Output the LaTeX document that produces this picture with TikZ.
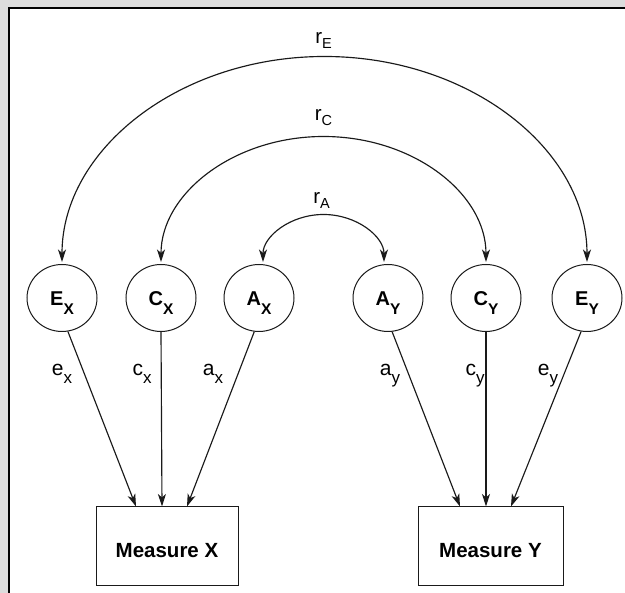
\documentclass[tikz,border=0pt]{standalone}
\usepackage{fontspec}
\setmainfont{Liberation Sans}
\usetikzlibrary{arrows.meta,shapes.geometric,calc}

% text helpers: main letter followed by a lowered subscript
\newcommand\latentlbl[2]{{\fontsize{20}{20}\selectfont\bfseries #1\raisebox{-9pt}{\fontsize{15.5}{15.5}\selectfont\bfseries #2}}}
\newcommand\pathlbl[2]{{\fontsize{21}{21}\selectfont #1\raisebox{-8pt}{\fontsize{17}{17}\selectfont #2}}}
\newcommand\corrlbl[2]{{\fontsize{20.5}{20.5}\selectfont #1\raisebox{-4.5pt}{\fontsize{14.5}{14.5}\selectfont #2}}}

\definecolor{framegray}{HTML}{DCDCDC}
\definecolor{ink}{HTML}{1A1A1A}

\tikzset{
  latent/.style={draw=ink, line width=1pt, ellipse, inner sep=0pt,
    minimum width=70pt, minimum height=67pt, text height=18pt, text depth=3pt},
  measure/.style={draw=ink, line width=1pt, rectangle, inner sep=0pt,
    minimum height=79pt, text height=21.7pt, text depth=0pt,
    font=\fontsize{20.5}{20.5}\selectfont\bfseries},
  tip/.style={-{Stealth[length=12.5pt,width=8pt,inset=3.5pt]}},
  loading/.style={draw=ink, line width=1.15pt, tip},
  corr/.style={draw=ink, line width=1.15pt,
    {Stealth[length=12.5pt,width=8pt,inset=3.5pt]}-{Stealth[length=12.5pt,width=8pt,inset=3.5pt]}},
  lbl/.style={inner sep=0pt}
}

\begin{document}
\begin{tikzpicture}[x=1pt,y=1pt]
  \useasboundingbox (0,0) rectangle (625,593);
  % page frame
  \fill[framegray] (0,0) rectangle (625,593);
  \fill[white] (9,0) rectangle (625,585);
  \draw[black, line width=1.8pt] (9,0) -- (9,585) -- (625,585);

  % latent factors
  \node[latent] (EX) at (62,295)  {\latentlbl{E}{X}};
  \node[latent] (CX) at (161,295) {\latentlbl{C}{X}};
  \node[latent] (AX) at (259,295) {\latentlbl{A}{X}};
  \node[latent] (AY) at (388,295) {\latentlbl{A}{Y}};
  \node[latent] (CY) at (486,295) {\latentlbl{C}{Y}};
  \node[latent] (EY) at (587,295) {\latentlbl{E}{Y}};

  % observed measures
  \node[measure, minimum width=142pt] (MX) at (167,46.5)  {Measure X};
  \node[measure, minimum width=145pt] (MY) at (490.5,46.5) {Measure Y};

  % arrow end points on the top edges of the measures
  \coordinate (mx1) at (136,0 |- MX.north);
  \coordinate (mx2) at (162,0 |- MX.north);
  \coordinate (mx3) at (187,0 |- MX.north);
  \coordinate (my1) at (460,0 |- MY.north);
  \coordinate (my2) at (486,0 |- MY.north);
  \coordinate (my3) at (511,0 |- MY.north);

  % factor loadings
  \draw[loading] (EX.-80)  -- (mx1);
  \draw[loading] (CX.south) -- (mx2);
  \draw[loading] (AX.-98)  -- (mx3);
  \draw[loading] (AY.-83)  -- (my1);
  \draw[loading] (CY.south) -- (my2);
  \draw[loading] (EY.-100) -- (my3);

  \node[lbl] (lex) at (62,219)  {\pathlbl{e}{x}};
  \node[lbl] (lcx) at (142,219) {\pathlbl{c}{x}};
  \node[lbl] (lax) at (213,219) {\pathlbl{a}{x}};
  \node[lbl] (lay) at (390,217) {\pathlbl{a}{y}};
  \node[lbl] (lcy) at (475,217) {\pathlbl{c}{y}};
  \node[lbl] (ley) at (548,217) {\pathlbl{e}{y}};

  % correlations between the twin factors
  \draw[corr, shorten <=2pt, shorten >=2pt] (EX.north)
     arc[start angle=180, end angle=0, x radius=262.5pt, y radius=207.5pt];
  \draw[corr, shorten <=2pt, shorten >=2pt] (CX.north)
     arc[start angle=180, end angle=0, x radius=162.5pt, y radius=127.5pt];
  \coordinate (ra1) at ($(AX.north)+(4,0)$);
  \draw[corr, shorten <=2pt, shorten >=2pt] (ra1)
     arc[start angle=180, end angle=0, x radius=60.5pt, y radius=49.5pt];

  \node[lbl] (rE) at (323.5,552.5) {\corrlbl{r}{E}};
  \node[lbl] (rC) at (323.5,475.5) {\corrlbl{r}{C}};
  \node[lbl] (rA) at (321.5,392.5) {\corrlbl{r}{A}};
\end{tikzpicture}
\end{document}
